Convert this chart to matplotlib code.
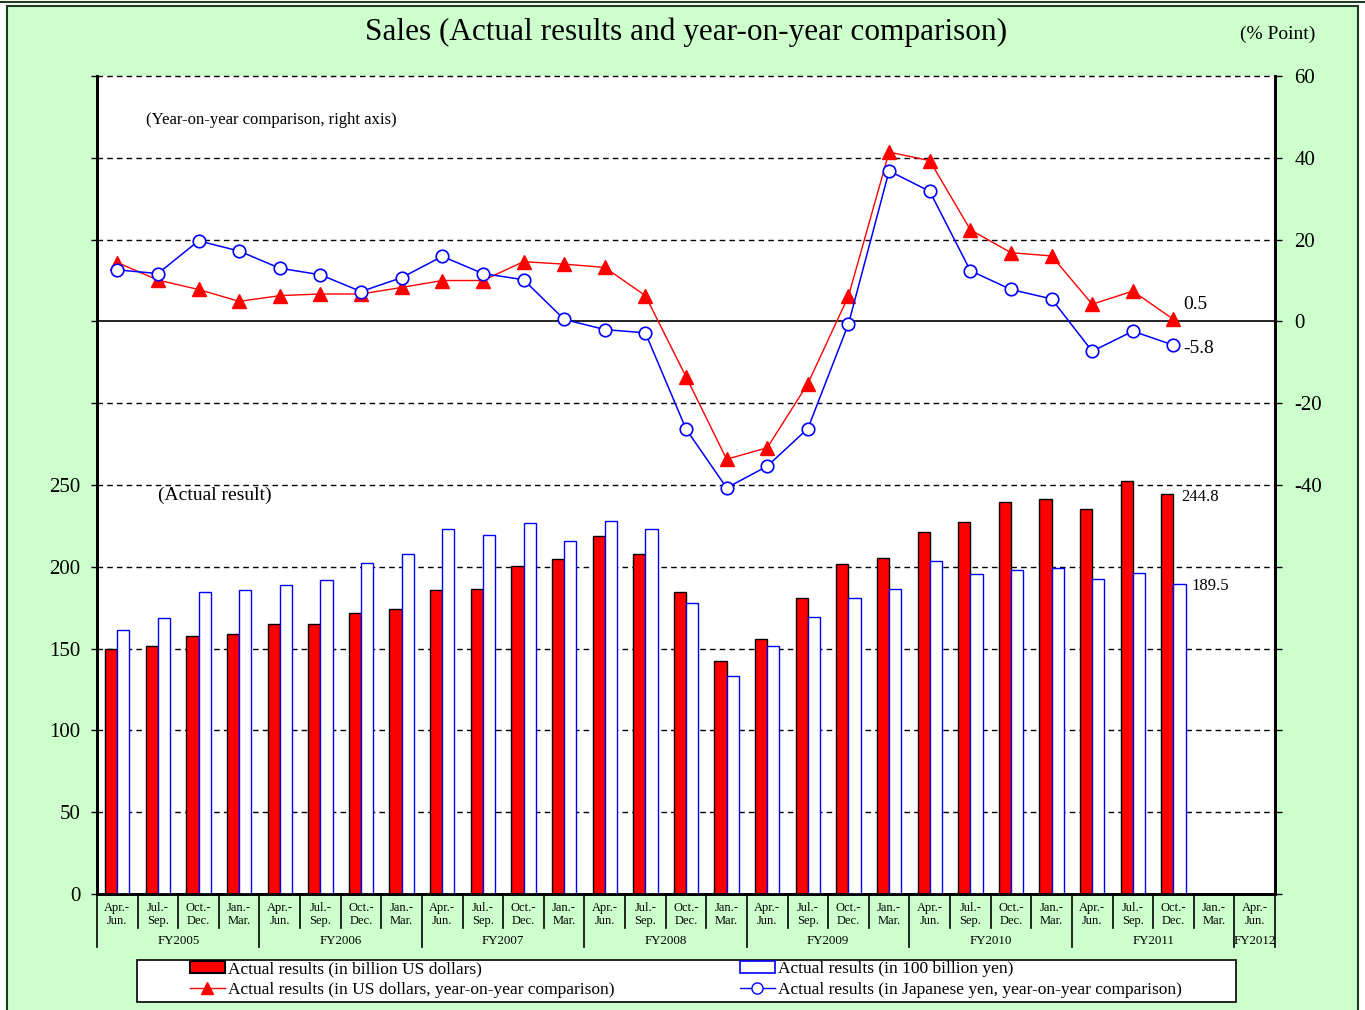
import matplotlib
matplotlib.use("Agg")
import matplotlib.pyplot as plt
from matplotlib.patches import Rectangle, Patch
from matplotlib.lines import Line2D
import matplotlib.transforms as mtransforms

plt.rcParams['font.family'] = ['Liberation Serif', 'DejaVu Serif']

# quarters FY2005 Q1 .. FY2012 Q1
quarters = ['Apr.-\nJun.', 'Jul.-\nSep.', 'Oct.-\nDec.', 'Jan.-\nMar.'] * 7 + ['Apr.-\nJun.']
fiscal_years = ['FY2005', 'FY2006', 'FY2007', 'FY2008', 'FY2009', 'FY2010', 'FY2011', 'FY2012']

# actual results (left axis)
usd_billion = [150.0, 151.6, 157.9, 158.7, 164.8, 164.8, 171.7, 174.1, 185.6, 186.4,
               200.2, 204.9, 218.7, 207.9, 184.6, 142.3, 156.1, 181.0, 201.5, 205.6,
               221.0, 227.1, 239.5, 241.7, 235.6, 252.6, 244.8]
yen_100billion = [161.6, 168.7, 184.7, 185.7, 188.7, 191.8, 202.5, 208.0, 223.4, 219.6,
                  226.7, 215.7, 228.1, 223.4, 177.8, 133.2, 151.8, 169.5, 181.0, 186.5,
                  203.3, 195.6, 198.0, 199.5, 192.6, 196.5, 189.5]

# year-on-year comparison (right axis, %)
usd_yoy = [14.4, 10.1, 7.8, 4.9, 6.3, 6.7, 6.7, 8.3, 10.0, 10.0,
           14.6, 14.0, 13.2, 6.3, -13.5, -33.7, -30.9, -15.2, 6.2, 41.4,
           39.3, 22.4, 16.8, 16.0, 4.2, 7.4, 0.5]
yen_yoy = [12.6, 11.7, 19.7, 17.2, 13.0, 11.4, 7.3, 10.7, 15.9, 11.7,
           10.2, 0.5, -2.0, -2.8, -26.3, -40.7, -35.4, -26.2, -0.6, 36.8,
           31.8, 12.4, 7.8, 5.5, -7.3, -2.4, -5.8]

W, H = 1365, 1010
fig = plt.figure(figsize=(W / 100, H / 100), dpi=100)
fig.patch.set_facecolor('white')

# green frame
fig.patches.append(Rectangle((7 / W, -0.02), 1351 / W, 1 - 6 / H + 0.02, transform=fig.transFigure,
                             facecolor='#CCFFCC', edgecolor='#1e3d1e', lw=1.5, zorder=-10))
fig.add_artist(Line2D([0, 1], [1 - 2 / H, 1 - 2 / H], transform=fig.transFigure,
                      color='#1e3d1e', lw=1.5, zorder=-9))

ax = fig.add_axes([97 / W, 116 / H, 1178 / W, 818 / H])
ax.set_facecolor('white')
ax2 = ax.twinx()

n = len(usd_billion)
x = list(range(n))
bw = 0.3

ax.bar([i - bw / 2 for i in x], usd_billion, width=bw, color='red', edgecolor='black', lw=1, zorder=3)
ax.bar([i + bw / 2 for i in x], yen_100billion, width=bw, color='white', edgecolor='blue', lw=1, zorder=3)

ax.set_xlim(-0.5, 28.5)
ax.set_ylim(0, 500)
ax2.set_ylim(-140, 60)

# dashed grid (behind bars)
for v in range(50, 501, 50):
    if v == 350:
        continue
    ax.axhline(v, color='black', lw=1, ls=(0, (4, 3)), zorder=1, clip_on=False)
ax2.axhline(0, color='black', lw=1.2, zorder=2)

ax2.plot(x, usd_yoy, color='red', lw=1, marker='^', ms=9.5, mfc='red', mec='red', zorder=5)
ax2.plot(x, yen_yoy, color='blue', lw=1.1, marker='o', ms=9, mfc='white', mec='blue', mew=1.2, zorder=6)

# ticks
ax.set_yticks(range(0, 501, 50))
ax.set_yticklabels([str(v) if v <= 250 else '' for v in range(0, 501, 50)])
ax2.set_yticks(range(-140, 61, 20))
ax2.set_yticklabels([str(v) if v >= -40 else '' for v in range(-140, 61, 20)])
ax.tick_params(axis='y', direction='out', length=4, width=1, labelsize=15, pad=8)
ax2.tick_params(axis='y', direction='out', length=5, width=1, labelsize=15, pad=9)
ax.set_xticks([])
ax2.set_xticks([])

for a in (ax, ax2):
    a.spines['top'].set_visible(False)
    a.spines['left'].set_linewidth(2)
    a.spines['right'].set_linewidth(2)
    a.spines['bottom'].set_linewidth(2)

# category labels and separators
trans = mtransforms.blended_transform_factory(ax.transData, ax.transAxes)
for i, q in enumerate(quarters):
    ax.text(i, -0.025, q, transform=trans, ha='center', va='center', fontsize=9, linespacing=1.05)
for i in range(30):
    xb = i - 0.5
    bottom = -0.065 if i % 4 == 0 or i >= 28 else -0.041
    ax.add_line(Line2D([xb, xb], [0, bottom], transform=trans, color='black', lw=1.2, clip_on=False))
for k, fy in enumerate(fiscal_years):
    cx = 4 * k + 1.5 if k < 7 else 28
    ax.text(cx, -0.057, fy, transform=trans, ha='center', va='center', fontsize=9.3)

# texts
fig.text(686 / W, 1 - 32 / H, 'Sales (Actual results and year-on-year comparison)',
         ha='center', va='center', fontsize=22.5)
fig.text(1278 / W, 1 - 34 / H, '(% Point)', ha='center', va='center', fontsize=14)
ax.text((146 - 97) / 1178, (894 - 120) / 818, '(Year-on-year comparison, right axis)',
        transform=ax.transAxes, ha='left', va='center', fontsize=12)
ax.text((158 - 97) / 1178, (894 - 495) / 818, '(Actual result)',
        transform=ax.transAxes, ha='left', va='center', fontsize=14)

ax2.text(26 + 0.25, 4.2, '0.5', ha='left', va='center', fontsize=14)
ax2.text(26 + 0.25, -6.6, '-5.8', ha='left', va='center', fontsize=14)
ax.text(26 + 0.2, 242.7, '244.8', ha='left', va='center', fontsize=12)
ax.text(26 + 0.45, 188.3, '189.5', ha='left', va='center', fontsize=12)

# legend box
fig.patches.append(Rectangle((137 / W, 1 - 1002 / H), 1099 / W, 42 / H, transform=fig.transFigure,
                             facecolor='white', edgecolor='black', lw=1.2, zorder=1))
h_usd = Patch(facecolor='red', edgecolor='black', lw=1.5)
h_yen = Patch(facecolor='white', edgecolor='blue', lw=1.2)
h_usd_yoy = Line2D([], [], color='red', lw=1, marker='^', ms=9, mfc='red', mec='red')
h_yen_yoy = Line2D([], [], color='blue', lw=1, marker='o', ms=8, mfc='white', mec='blue')
leg_kw = dict(loc='upper left', frameon=False, fontsize=12.5, handlelength=2.0,
              handletextpad=0.2, labelspacing=0.25, borderpad=0, borderaxespad=0)
fig.legend([h_usd, h_usd_yoy], ['Actual results (in billion US dollars)',
                                 'Actual results (in US dollars, year-on-year comparison)'],
           bbox_to_anchor=(190 / W, 1 - 961 / H), **leg_kw)
fig.legend([h_yen, h_yen_yoy], ['Actual results (in 100 billion yen)',
                                 'Actual results (in Japanese yen, year-on-year comparison)'],
           bbox_to_anchor=(740 / W, 1 - 961 / H), **leg_kw)

fig.savefig('out.png', dpi=100, facecolor=fig.get_facecolor())
